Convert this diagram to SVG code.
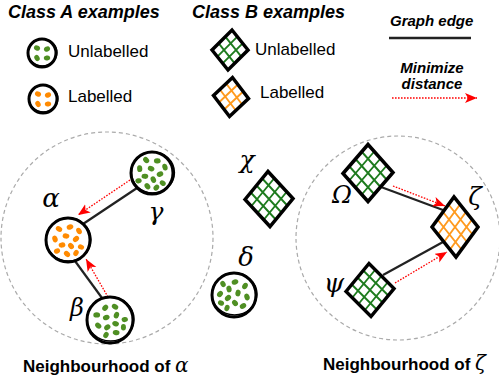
<svg xmlns="http://www.w3.org/2000/svg" xmlns:xlink="http://www.w3.org/1999/xlink" width="499" height="382" viewBox="0 0 499 382">
<style>
.hd{font-family:"Liberation Sans",Arial,sans-serif;font-weight:bold;font-style:italic;fill:#000}
.lg{font-family:"Liberation Sans",Arial,sans-serif;font-size:17px;fill:#000}
.nb{font-family:"Liberation Sans",Arial,sans-serif;font-weight:bold;font-size:17px;fill:#000}
.gk{font-family:"DejaVu Serif","Liberation Serif",serif;font-style:italic;fill:#000}
.ring{fill:#fff;stroke:#000;stroke-width:3}
.ring2{fill:none;stroke:#000;stroke-width:1.3}
.edge{stroke:#222;stroke-width:2.2;fill:none}
.md{stroke:#ff0000;stroke-width:1.3;stroke-dasharray:1.6 1.4;fill:none;marker-end:url(#ah)}
.hood{fill:none;stroke:#aaa;stroke-width:1.2;stroke-dasharray:4 3}
.grid{stroke:currentColor;stroke-width:1.9;vector-effect:non-scaling-stroke;fill:none}
.box{fill:none;stroke:#000;stroke-width:3.5;vector-effect:non-scaling-stroke;stroke-linejoin:miter}
</style>
<defs>
<marker id="ah" markerUnits="userSpaceOnUse" markerWidth="14" markerHeight="12" refX="12" refY="5" orient="auto">
<path d="M0,0 L12,5 L0,10 L3,5 z" fill="#ff0000"/>
</marker>
<g id="hatch3">
<rect x="-1" y="-1" width="2" height="2" fill="#fff"/>
<path class="grid" d="M-0.5,-1V1M0,-1V1M0.5,-1V1M-1,-0.5H1M-1,0H1M-1,0.5H1"/>
<rect class="box" x="-1" y="-1" width="2" height="2"/>
</g>
<g id="hatch2">
<rect x="-1" y="-1" width="2" height="2" fill="#fff"/>
<path class="grid" d="M-0.33,-1V1M0.33,-1V1M-1,-0.33H1M-1,0.33H1"/>
<rect class="box" x="-1" y="-1" width="2" height="2"/>
</g>
<g id="dotsBig" fill="currentColor">
<ellipse cx="-9" cy="-11" rx="3.4" ry="2.6" transform="rotate(30 -9 -11)"/>
<ellipse cx="2" cy="-13" rx="3.4" ry="2.6" transform="rotate(-20 2 -13)"/>
<ellipse cx="11" cy="-9" rx="3.4" ry="2.6" transform="rotate(60 11 -9)"/>
<ellipse cx="-2" cy="-4" rx="3.4" ry="2.6" transform="rotate(10 -2 -4)"/>
<ellipse cx="8" cy="-1" rx="3.4" ry="2.6" transform="rotate(-40 8 -1)"/>
<ellipse cx="-13" cy="-1" rx="3.4" ry="2.6" transform="rotate(70 -13 -1)"/>
<ellipse cx="-6" cy="5" rx="3.4" ry="2.6" transform="rotate(-10 -6 5)"/>
<ellipse cx="3" cy="6" rx="3.4" ry="2.6" transform="rotate(50 3 6)"/>
<ellipse cx="13" cy="7" rx="3.2" ry="2.5" transform="rotate(20 13 7)"/>
<ellipse cx="-11" cy="11" rx="3.2" ry="2.5" transform="rotate(-30 -11 11)"/>
<ellipse cx="-1" cy="14" rx="3.4" ry="2.6" transform="rotate(40 -1 14)"/>
<ellipse cx="8" cy="13" rx="3.2" ry="2.5" transform="rotate(-60 8 13)"/>
</g>
<g id="dotsSmall" fill="currentColor">
<ellipse cx="-5" cy="-5" rx="3.2" ry="2.5" transform="rotate(30 -5 -5)"/>
<ellipse cx="5" cy="-4" rx="3.2" ry="2.5" transform="rotate(-30 5 -4)"/>
<ellipse cx="-5" cy="5" rx="3.2" ry="2.5" transform="rotate(60 -5 5)"/>
<ellipse cx="5" cy="5" rx="3.2" ry="2.5" transform="rotate(-10 5 5)"/>
</g>
</defs>
<rect width="499" height="382" fill="#fff"/>

<g id="legend">
<text class="hd" x="8" y="18" font-size="18">Class A examples</text>
<text class="hd" x="192" y="18" font-size="18">Class B examples</text>
<g id="legend-a-unlabelled">
<circle class="ring" cx="42" cy="53" r="14"/>
<ellipse class="ring2" cx="42.5" cy="52.5" rx="14.5" ry="13.5"/>
<use xlink:href="#dotsSmall" href="#dotsSmall" transform="translate(42 53)" color="#4f8f23"/>
<text class="lg" x="68" y="57">Unlabelled</text>
</g>
<g id="legend-a-labelled">
<circle class="ring" cx="43" cy="99" r="14"/>
<ellipse class="ring2" cx="43.5" cy="98.5" rx="14.5" ry="13.5"/>
<use xlink:href="#dotsSmall" href="#dotsSmall" transform="translate(43 99)" color="#ff8a00"/>
<text class="lg" x="68" y="102">Labelled</text>
</g>
<g id="legend-b-unlabelled">
<use xlink:href="#hatch2" href="#hatch2" transform="matrix(10 -10 8 10 230 50)" color="#1e7b1e"/>
<text class="lg" x="255" y="55">Unlabelled</text>
</g>
<g id="legend-b-labelled">
<use xlink:href="#hatch2" href="#hatch2" transform="matrix(9.5 -9 8 10.5 231 97)" color="#ff9a1e"/>
<text class="lg" x="260" y="98">Labelled</text>
</g>
<g id="legend-edge">
<text class="hd" x="390" y="26" font-size="15">Graph edge</text>
<line x1="389" y1="38" x2="471" y2="38" stroke="#222" stroke-width="2.5"/>
</g>
<g id="legend-min">
<text class="hd" x="432" y="73" font-size="15" text-anchor="middle">Minimize</text>
<text class="hd" x="432" y="89" font-size="15" text-anchor="middle">distance</text>
<line class="md" x1="392" y1="98" x2="477" y2="98"/>
</g>
</g>

<g id="neighbourhoods">
<circle class="hood" cx="107" cy="238" r="106"/>
<circle class="hood" cx="398" cy="238" r="102"/>
<text class="nb" x="23" y="372">Neighbourhood of <tspan class="gk" font-size="20" font-weight="normal">α</tspan></text>
<text class="nb" x="323" y="370">Neighbourhood of <tspan class="gk" font-size="20" font-weight="normal">ζ</tspan></text>
</g>

<g id="connectors">
<line class="edge" x1="137" y1="188" x2="83" y2="224"/>
<line class="edge" x1="75" y1="261" x2="102" y2="298"/>
<line class="edge" x1="381" y1="187" x2="443" y2="210"/>
<line class="edge" x1="383" y1="275" x2="443" y2="242"/>
<line class="md" x1="130" y1="180" x2="78" y2="215"/>
<line class="md" x1="108" y1="297" x2="86" y2="259"/>
<line class="md" x1="393" y1="186" x2="445" y2="206"/>
<line class="md" x1="395" y1="283" x2="447" y2="252"/>
</g>

<g id="node-gamma">
<circle class="ring" cx="152" cy="173" r="21"/>
<ellipse class="ring2" cx="153" cy="172.5" rx="21.5" ry="20.5"/>
<use xlink:href="#dotsBig" href="#dotsBig" transform="translate(152 173) rotate(15)" color="#4f8f23"/>
<text class="gk" x="156" y="220" font-size="25" text-anchor="middle">γ</text>
</g>
<g id="node-alpha">
<circle class="ring" cx="68" cy="240" r="22"/>
<ellipse class="ring2" cx="68.5" cy="239.5" rx="22.5" ry="21.5"/>
<use xlink:href="#dotsBig" href="#dotsBig" transform="translate(68 240)" color="#ff8a00"/>
<text class="gk" x="51" y="207" font-size="26" text-anchor="middle">α</text>
</g>
<g id="node-beta">
<circle class="ring" cx="110" cy="320" r="23"/>
<ellipse class="ring2" cx="110.5" cy="319" rx="23.5" ry="22"/>
<use xlink:href="#dotsBig" href="#dotsBig" transform="translate(110 320) rotate(-30)" color="#4f8f23"/>
<text class="gk" x="77" y="316" font-size="24" text-anchor="middle">β</text>
</g>
<g id="node-delta">
<circle class="ring" cx="234" cy="295" r="22"/>
<ellipse class="ring2" cx="234.5" cy="294" rx="22.5" ry="21"/>
<use xlink:href="#dotsBig" href="#dotsBig" transform="translate(234 295) rotate(90)" color="#4f8f23"/>
<text class="gk" x="246" y="266" font-size="26" text-anchor="middle">δ</text>
</g>
<g id="node-chi">
<use xlink:href="#hatch3" href="#hatch3" transform="matrix(11.5 -14 12.5 13.5 269 199)" color="#1e7b1e"/>
<text class="gk" x="247" y="168" font-size="25" text-anchor="middle">χ</text>
</g>
<g id="node-omega">
<use xlink:href="#hatch3" href="#hatch3" transform="matrix(12.5 -14.5 12.5 14 368 173)" color="#1e7b1e"/>
<text class="gk" x="342" y="203" font-size="24" text-anchor="middle">Ω</text>
</g>
<g id="node-zeta">
<use xlink:href="#hatch3" href="#hatch3" transform="matrix(11 -15 12 15 455 227)" color="#ff9a1e"/>
<text class="gk" x="475" y="205" font-size="25" text-anchor="middle">ζ</text>
</g>
<g id="node-psi">
<use xlink:href="#hatch3" href="#hatch3" transform="matrix(11.5 -14 12.5 12.5 370 290)" color="#1e7b1e"/>
<text class="gk" x="334" y="292" font-size="26" text-anchor="middle">ψ</text>
</g>
</svg>
